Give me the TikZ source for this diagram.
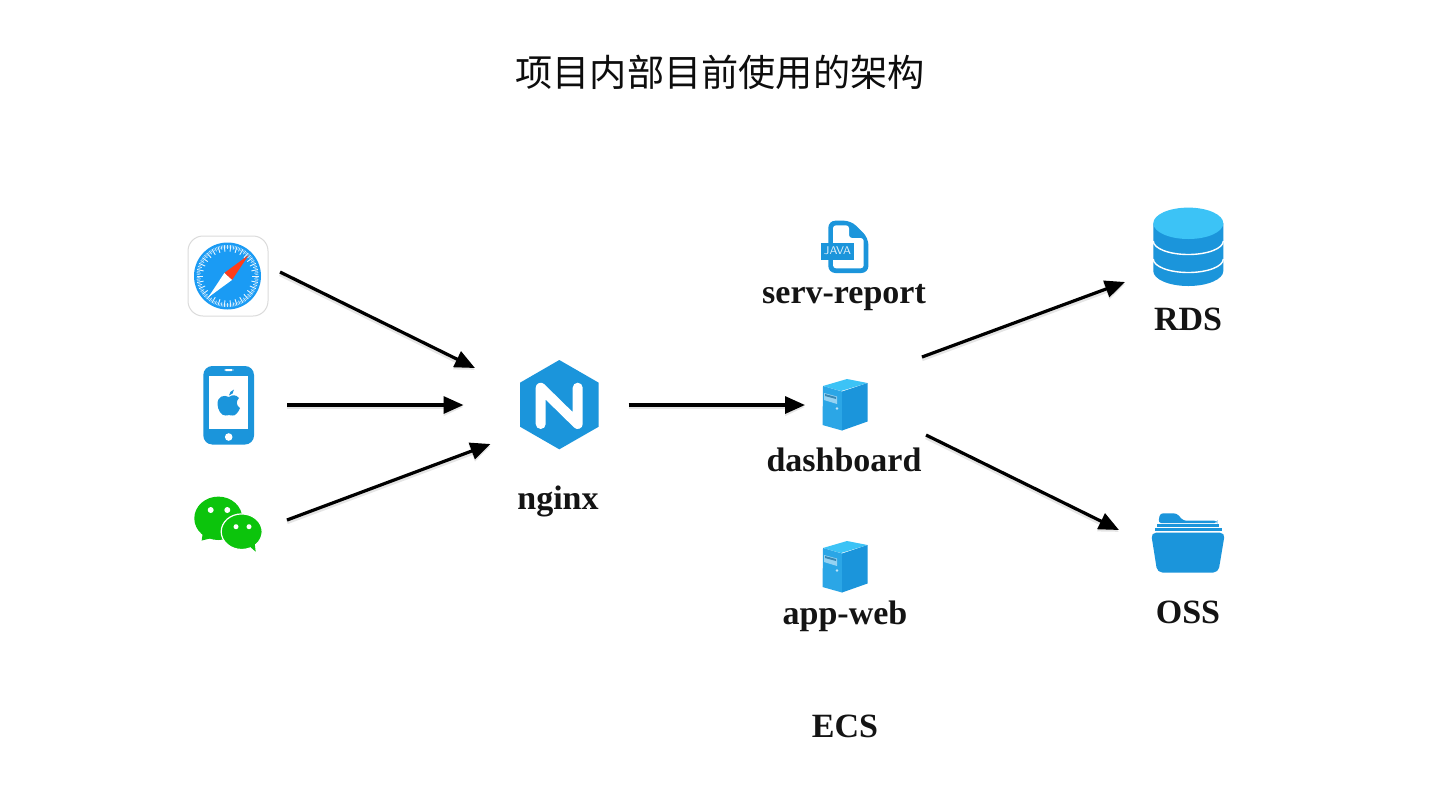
\documentclass[tikz,border=0pt]{standalone}
\usepackage{fontspec}
\setmainfont{Liberation Serif}
\newfontfamily\cjkfont{Noto Sans CJK SC}
\usetikzlibrary{arrows.meta}
\definecolor{icoblue}{HTML}{1B95DB}
\definecolor{icolight}{HTML}{3CC3F6}
\definecolor{icomid}{HTML}{2BA6E6}
\definecolor{safblue}{HTML}{1A9BF4}
\definecolor{wxgreen}{HTML}{0CC40C}
\tikzset{
  lbl/.style={font=\bfseries\fontsize{17}{20}\selectfont,text=black!92,anchor=base,inner sep=0pt},
  ttl/.style={font=\cjkfont\fontsize{18.6}{22}\selectfont,text=black!95,inner sep=0pt},
  icon/.style={inner sep=0pt,outer sep=0pt},
  arr/.style={line width=1.6pt,black,-{Triangle[length=10pt,width=8.5pt]},
    preaction={draw=black,opacity=.1,line width=2.2pt,transform canvas={yshift=-1pt}}},
  serverpic/.pic={
    \fill[icolight] (-22,-19) -- (2,-26) -- (22.5,-22) -- (-4,-14) -- cycle;
    \fill[icomid] (-22,-19) -- (-3,-13.5) -- (-3,25.5) -- (-22.5,20) -- cycle;
    \fill[icoblue] (-3,-13.5) -- (22.5,-22) -- (22.5,16.5) -- (-3,25.5) -- cycle;
    \fill[white,opacity=.5] (-21,-12) -- (-8,-8.5) -- (-8,-1) -- (-21,-5) -- cycle;
    \fill[icoblue!70!black,opacity=.7] (-20,-11) -- (-9,-8) -- (-9,-6) -- (-20,-9) -- cycle;
    \fill[white,opacity=.7] (-8,3.5) circle (1.3);
  }
}
\begin{document}
\begin{tikzpicture}[x=0.5pt,y=-0.5pt]
\useasboundingbox (0,0) rectangle (1440,810);
\fill[white] (0,0) rectangle (1440,810);

\node[ttl] (title) at (720,72) {项目内部目前使用的架构};

% anchor nodes of the icons
\node[icon,minimum width=40pt,minimum height=40pt] (safari) at (228,276) {};
\node[icon,minimum width=25.5pt,minimum height=39.5pt] (iphone) at (228.5,405) {};
\node[icon,minimum width=34pt,minimum height=28pt] (wechat) at (228,524) {};
\node[icon,minimum width=40pt,minimum height=45pt] (nginx) at (559.5,405) {};
\node[icon,minimum width=25pt,minimum height=27pt] (javafile) at (845,247) {};
\node[icon,minimum width=23pt,minimum height=26pt] (dashboard) at (845,405) {};
\node[icon,minimum width=23pt,minimum height=26pt] (appweb) at (845,567) {};
\node[icon,minimum width=36pt,minimum height=39.5pt] (rds) at (1188,247.5) {};
\node[icon,minimum width=38pt,minimum height=30pt] (oss) at (1188,543) {};

% Safari
\draw[black!14,line width=.5pt,fill=white,rounded corners=7.5pt] (188,236) rectangle (268,316);
\fill[safblue] (227.5,276) circle (33.5);
\foreach \a in {0,12,...,348}{
  \draw[white,line width=.45pt,opacity=.9] ([shift={(227.5,276)}]\a:24.5) -- ([shift={(227.5,276)}]\a:31);
  \draw[white,line width=.4pt,opacity=.8] ([shift={(227.5,276)}]\a+6:27) -- ([shift={(227.5,276)}]\a+6:31);
  \draw[white,line width=.3pt,opacity=.6] ([shift={(227.5,276)}]\a+3:28) -- ([shift={(227.5,276)}]\a+3:31);
  \draw[white,line width=.3pt,opacity=.6] ([shift={(227.5,276)}]\a+9:28) -- ([shift={(227.5,276)}]\a+9:31);
}
\fill[white] (208.3,297.3) -- (224.5,272.8) -- (232.2,279.8) -- cycle;
\fill[red!70!orange!90!white] (248.7,255) -- (224.5,272.8) -- (232.2,279.8) -- cycle;

% iPhone
\fill[icoblue,rounded corners=4.5pt] (203.3,366) rectangle (254,444.5);
\fill[white] (209.3,376) rectangle (248.3,429);
\fill[white,rounded corners=.8pt] (224.3,369) rectangle (233.3,371);
\fill[white] (228.7,437) circle (3.8);
\begin{scope}[shift={(229,403)}]
\fill[icoblue] (0,-6) .. controls (3,-8.5) and (7,-8.5) .. (10,-5)
  .. controls (7,-2.5) and (7,3) .. (11,5)
  .. controls (9,10) and (6,13) .. (3.5,12.5)
  .. controls (1,12) and (-1,12) .. (-3.5,12.5)
  .. controls (-8,13) and (-11.5,6) .. (-11.5,1)
  .. controls (-11.5,-7) and (-5,-8.5) .. (0,-6) -- cycle;
\fill[icoblue] (0,-7.5) .. controls (0,-10) and (2,-12.5) .. (5,-13.5)
  .. controls (5,-10.5) and (3,-8) .. (0,-7.5) -- cycle;
\end{scope}

% WeChat
\fill[wxgreen] (218.3,518.3) ellipse [x radius=24,y radius=21.7];
\fill[wxgreen] (203,531) -- (201.7,540.5) -- (216,537) -- cycle;
\fill[white] (210.7,510) circle (3) (227.3,510) circle (3);
\fill[wxgreen,draw=white,line width=.6pt] (241.7,531.7) ellipse [x radius=20.5,y radius=17.8];
\fill[wxgreen] (248,545) -- (255.7,551.7) -- (254.5,542) -- cycle;
\fill[white] (236,526.7) circle (2.5) (249,526.7) circle (2.5);

% nginx
\fill[icoblue] (559.3,360) -- (598.7,382.7) -- (598.7,426.7) -- (559.3,449.3) -- (520,426.7) -- (520,382.7) -- cycle;
\draw[white,line width=5pt,line cap=round,line join=round] (540.7,424) -- (540.7,387.7) -- (577.7,424) -- (577.7,387.7);

% Java file
\fill[icoblue,rounded corners=3.5pt] (828.3,220.7) -- (851,220.7) -- (868.4,238) -- (868.4,273) -- (828.3,273) -- cycle;
\fill[white,rounded corners=1.5pt] (833,225.3) -- (849,225.3) -- (849,238) -- (863.7,238) -- (863.7,268.3) -- (833,268.3) -- cycle;
\fill[icoblue] (820.7,243.3) rectangle (854.3,260);
\node[icon,font=\sffamily\fontsize{5.6}{7}\selectfont,text=white!85!icoblue] (javatag) at (837.5,251) {JAVA};

% Servers
\pic at (dashboard.center) {serverpic};
\pic at (appweb.center) {serverpic};

% RDS
\fill[icoblue] (1153.3,223.3) -- (1153.3,271) arc[start angle=180,end angle=0,x radius=35,y radius=15] -- (1223.3,223.3) -- cycle;
\fill[icolight] (1188.3,223.3) ellipse [x radius=35,y radius=15.7];
\draw[white,line width=.7pt] (1153.3,241) arc[start angle=180,end angle=0,x radius=35,y radius=13.5];
\draw[white,line width=.7pt] (1153.3,259) arc[start angle=180,end angle=0,x radius=35,y radius=13.5];

% OSS
\fill[icoblue,rounded corners=1.5pt] (1158.3,523) -- (1160,513.3) -- (1176.7,513.3) -- (1183.3,520.7) -- (1217.3,520.7) -- (1217.3,523) -- cycle;
\fill[icoblue] (1156.7,524.3) rectangle (1219.3,526.6);
\fill[icoblue] (1155,528.2) rectangle (1221.7,530.6);
\fill[icoblue,rounded corners=2.5pt] (1151,532.7) -- (1225,532.7) -- (1218.3,572.5) -- (1157.3,572.5) -- cycle;

% Labels
\node[lbl] (lreport) at (844,303) {serv-report};
\node[lbl] (ldash) at (844,471) {dashboard};
\node[lbl] (lapp) at (845,624) {app-web};
\node[lbl] (lecs) at (845,737) {ECS};
\node[lbl] (lnginx) at (558,509) {nginx};
\node[lbl] (lrds) at (1188,330) {RDS};
\node[lbl] (loss) at (1188,623) {OSS};

% Connectors
\draw[arr] ([shift={(12,-4)}]safari.east) -- ([shift={(-44.5,-37)}]nginx.west);
\draw[arr] ([shift={(33,0)}]iphone.east) -- ([shift={(-56,0)}]nginx.west);
\draw[arr] ([shift={(25,-4)}]wechat.east) -- ([shift={(-29,39)}]nginx.west);
\draw[arr] ([shift={(29,0)}]nginx.east) -- ([shift={(-17,0)}]dashboard.west);
\draw[arr] ([shift={(54,-48)}]dashboard.east) -- ([shift={(-27,34.5)}]rds.west);
\draw[arr] ([shift={(58,30)}]dashboard.east) -- ([shift={(-31,-13)}]oss.west);
\end{tikzpicture}
\end{document}
